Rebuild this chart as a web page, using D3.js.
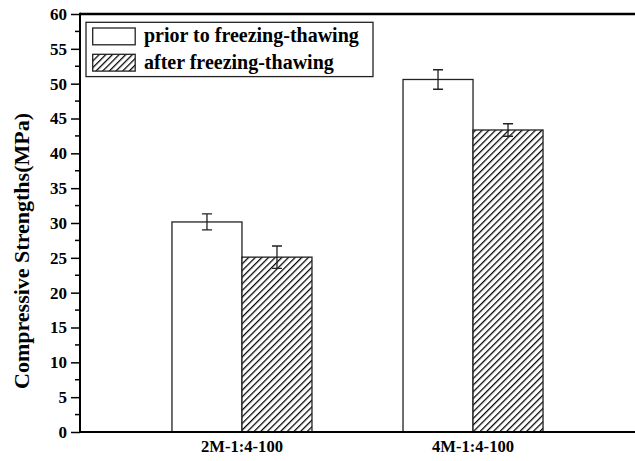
<!DOCTYPE html>
<html>
<head>
<meta charset="utf-8">
<script src="https://cdn.jsdelivr.net/npm/d3@7"></script>
<style>
  html, body { margin: 0; padding: 0; background: #fff; }
  svg { display: block; }
</style>
</head>
<body>
<svg id="chart" width="635" height="461"></svg>
<script>
// Mix designs on the x axis
const categories = ["2M-1:4-100", "4M-1:4-100"];
// Series shown in the legend
const seriesNames = ["prior to freezing-thawing", "after freezing-thawing"];
// Compressive strength means (MPa), one value per category
const priorValues = [30.15, 50.6];
const afterValues = [25.1, 43.35];
// Error bar half-ranges (MPa)
const priorErrors = [1.15, 1.4];
const afterErrors = [1.6, 0.9];
// Y axis ticks
const yTicks = [0, 5, 10, 15, 20, 25, 30, 35, 40, 45, 50, 55, 60];
const yMinorTicks = [2.5, 7.5, 12.5, 17.5, 22.5, 27.5, 32.5, 37.5, 42.5, 47.5, 52.5, 57.5];
const yTitle = "Compressive Strengths(MPa)";

const FONT = "'Liberation Serif', 'DejaVu Serif', serif";

const svg = d3.select("#chart");
const plotLeft = 80, plotRight = 635, plotTop = 14, plotBottom = 432;

const x = d3.scaleBand().domain(categories).range([plotLeft, plotRight])
  .paddingInner(0.394).paddingOuter(0.398);
const xs = d3.scaleBand().domain(seriesNames).range([0, x.bandwidth()]);
const y = d3.scaleLinear().domain([0, 60]).range([plotBottom, plotTop]);

// Diagonal hatch fill
const defs = svg.append("defs");
const pat = defs.append("pattern")
  .attr("id", "hatch")
  .attr("patternUnits", "userSpaceOnUse")
  .attr("width", 4.7).attr("height", 4.7)
  .attr("patternTransform", "rotate(45)");
pat.append("rect").attr("width", 4.7).attr("height", 4.7).attr("fill", "#fff");
pat.append("line").attr("x1", 0.6).attr("y1", 0).attr("x2", 0.6).attr("y2", 4.7)
  .attr("stroke", "#000").attr("stroke-width", 1.3);

const fills = ["#fff", "url(#hatch)"];
const rows = categories.map((c, i) => [
  { cat: c, s: seriesNames[0], v: priorValues[i], e: priorErrors[i], f: fills[0] },
  { cat: c, s: seriesNames[1], v: afterValues[i], e: afterErrors[i], f: fills[1] }
]).flat();

// Bars
svg.append("g").selectAll("rect").data(rows).join("rect")
  .attr("x", d => x(d.cat) + xs(d.s))
  .attr("y", d => y(d.v))
  .attr("width", xs.bandwidth())
  .attr("height", d => y(0) - y(d.v))
  .attr("fill", d => d.f)
  .attr("stroke", "#222")
  .attr("stroke-width", 1.3);

// Error bars
const eb = svg.append("g").attr("stroke", "#222").attr("stroke-width", 1.3).attr("fill", "none");
rows.forEach(d => {
  const cx = x(d.cat) + xs(d.s) + xs.bandwidth() / 2;
  const y1 = y(d.v + d.e), y2 = y(d.v - d.e);
  eb.append("path").attr("d",
    `M${cx},${y1}V${y2}M${cx - 5},${y1}H${cx + 5}M${cx - 5},${y2}H${cx + 5}`);
});

// Y axis with major and minor ticks
const yAxis = svg.append("g").attr("transform", `translate(${plotLeft},0)`)
  .call(d3.axisLeft(y).tickValues(yTicks).tickSize(9).tickPadding(4).tickFormat(d3.format("d")));
yAxis.attr("font-family", null).attr("font-size", null);
yAxis.select(".domain").remove();
yAxis.selectAll(".tick line").attr("stroke", "#000").attr("stroke-width", 1.5);
yAxis.selectAll(".tick text")
  .style("font-family", FONT).style("font-weight", "bold").style("font-size", "17px").attr("fill", "#000");
svg.append("g").selectAll("line").data(yMinorTicks).join("line")
  .attr("x1", plotLeft - 5).attr("x2", plotLeft).attr("y1", d => y(d)).attr("y2", d => y(d))
  .attr("stroke", "#000").attr("stroke-width", 1.5);

// X axis labels (no ticks)
const xAxis = svg.append("g").attr("transform", `translate(0,${plotBottom})`)
  .call(d3.axisBottom(x).tickSize(0).tickPadding(8));
xAxis.attr("font-family", null).attr("font-size", null);
xAxis.select(".domain").remove();
xAxis.selectAll(".tick text")
  .style("font-family", FONT).style("font-weight", "bold").style("font-size", "16.6px").attr("fill", "#000");

// Frame lines
svg.append("line").attr("x1", plotLeft).attr("x2", plotRight).attr("y1", plotBottom).attr("y2", plotBottom)
  .attr("stroke", "#000").attr("stroke-width", 2);
svg.append("line").attr("x1", plotLeft).attr("x2", plotRight).attr("y1", plotTop).attr("y2", plotTop)
  .attr("stroke", "#000").attr("stroke-width", 2.5);
svg.append("line").attr("x1", plotLeft).attr("x2", plotLeft).attr("y1", plotTop - 1.2).attr("y2", plotBottom + 1)
  .attr("stroke", "#000").attr("stroke-width", 2);

// Y axis title
svg.append("text")
  .attr("transform", `translate(29,251) rotate(-90)`)
  .attr("text-anchor", "middle")
  .style("font-family", FONT).style("font-weight", "bold").style("font-size", "22px")
  .text(yTitle);

// Legend
const lg = svg.append("g");
lg.append("rect").attr("x", 86).attr("y", 22.3).attr("width", 287).attr("height", 54.3)
  .attr("fill", "#fff").attr("stroke", "#222").attr("stroke-width", 1.3);
seriesNames.forEach((name, i) => {
  const ry = 28 + i * 26.3;
  lg.append("rect").attr("x", 92.7).attr("y", ry).attr("width", 42.5).attr("height", 16.8)
    .attr("fill", fills[i]).attr("stroke", "#222").attr("stroke-width", 1.3);
  lg.append("text").attr("x", 144).attr("y", ry + 14.3)
    .style("font-family", FONT).style("font-weight", "bold").style("font-size", "20px")
    .text(name);
});
</script>
</body>
</html>
